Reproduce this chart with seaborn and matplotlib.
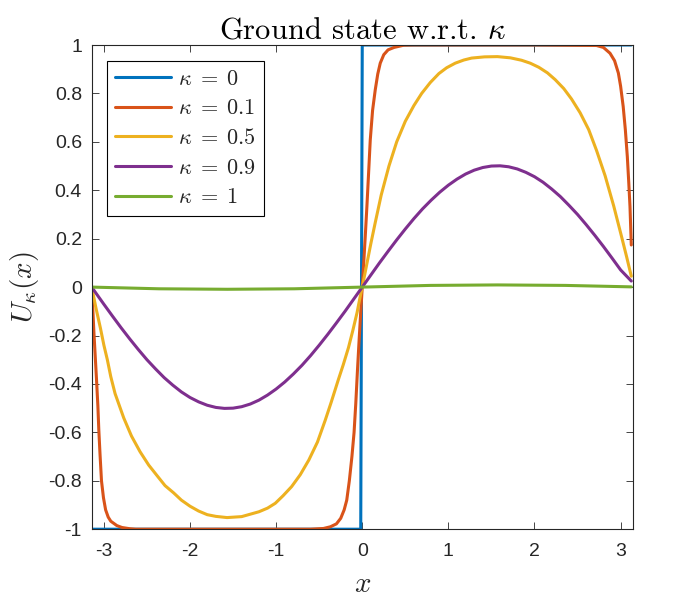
import numpy as np
import matplotlib
matplotlib.use('Agg')
import matplotlib.pyplot as plt
import seaborn as sns

sns.set_theme(style='ticks')
plt.rcParams['font.family'] = ['Liberation Sans', 'DejaVu Sans']
plt.rcParams['mathtext.fontset'] = 'cm'

kappas = ['0', '0.1', '0.5', '0.9', '1']
colors = ['#0072BD', '#D95319', '#EDB120', '#7E2F8E', '#77AC30']

# kappa = 0 : step
x_k0 = [-3.1416, -0.0175, 0.0, 3.124]
u_k0 = [-1.0, -1.0, 1.0, 1.0]

# kappa = 0.1
x_k01 = [-3.1416, -3.13, -3.117, -3.10, -3.086, -3.07, -3.059, -3.045, -3.028,
         -3.005, -2.98, -2.95, -2.92, -2.85, -2.79, -2.70, -2.63, -2.0, -1.0,
         -0.60, -0.45, -0.37, -0.30, -0.25, -0.21, -0.18, -0.15, -0.12, -0.095,
         -0.075, -0.055, -0.035, -0.017, 0.0, 0.017, 0.035, 0.054, 0.075, 0.093,
         0.12, 0.151, 0.18, 0.209, 0.25, 0.30, 0.37, 0.48, 0.60, 1.0, 2.0,
         2.72, 2.80, 2.877, 2.93, 2.974, 3.0, 3.03, 3.055, 3.078, 3.095, 3.109,
         3.124]
u_k01 = [0.0, -0.08, -0.18, -0.29, -0.38, -0.49, -0.59, -0.69, -0.80,
         -0.87, -0.92, -0.95, -0.967, -0.985, -0.993, -0.998, -1.0, -1.0, -1.0,
         -1.0, -0.997, -0.99, -0.978, -0.955, -0.92, -0.88, -0.80, -0.70, -0.60,
         -0.48, -0.34, -0.21, -0.10, 0.0, 0.10, 0.21, 0.333, 0.48, 0.608,
         0.73, 0.815, 0.88, 0.925, 0.96, 0.98, 0.99, 0.999, 1.0, 1.0, 1.0,
         0.998, 0.99, 0.966, 0.935, 0.884, 0.83, 0.746, 0.65, 0.539, 0.43, 0.333,
         0.174]

# kappa = 0.5
x_k05 = [-3.1416, -3.09, -3.04, -3.0, -2.96, -2.92, -2.87, -2.82, -2.77, -2.68,
         -2.58, -2.48, -2.38, -2.29, -2.19, -2.1, -2.0, -1.9, -1.8, -1.7,
         -1.57, -1.4, -1.2, -1.1, -1.01, -0.92, -0.82, -0.72, -0.62, -0.52,
         -0.43, -0.36, -0.28, -0.22, -0.16, -0.11, -0.06, -0.03, 0.0,
         0.05, 0.10, 0.15, 0.22, 0.31, 0.40, 0.50, 0.60, 0.69, 0.79, 0.89,
         0.98, 1.08, 1.18, 1.27, 1.42, 1.57, 1.72, 1.85, 1.95, 2.05, 2.15,
         2.24, 2.34, 2.43, 2.53, 2.63, 2.72, 2.82, 2.92, 3.01, 3.07, 3.124]
u_k05 = [0.0, -0.09, -0.17, -0.24, -0.30, -0.37, -0.44, -0.49, -0.54, -0.615,
         -0.68, -0.735, -0.78, -0.82, -0.85, -0.88, -0.905, -0.925, -0.94, -0.947,
         -0.952, -0.948, -0.928, -0.913, -0.893, -0.862, -0.824, -0.775, -0.714, -0.64,
         -0.55, -0.475, -0.385, -0.32, -0.25, -0.18, -0.105, -0.05, 0.0,
         0.09, 0.18, 0.265, 0.38, 0.50, 0.60, 0.685, 0.75, 0.80, 0.845, 0.882,
         0.906, 0.925, 0.938, 0.946, 0.951, 0.952, 0.947, 0.937, 0.925, 0.908, 0.885,
         0.857, 0.82, 0.777, 0.72, 0.65, 0.565, 0.46, 0.335, 0.21, 0.125, 0.045]

# kappa = 0.9
x_k09 = [-3.1416, -3.1, -3.0, -2.9, -2.8, -2.7, -2.6, -2.5, -2.4, -2.3, -2.2,
         -2.1, -2.0, -1.9, -1.8, -1.7, -1.6, -1.5, -1.4, -1.3, -1.2, -1.1,
         -1.0, -0.9, -0.8, -0.7, -0.6, -0.5, -0.4, -0.3, -0.2, -0.1, 0.0,
         0.1, 0.2, 0.3, 0.4, 0.5, 0.6, 0.7, 0.8, 0.9, 1.0, 1.1, 1.2, 1.3,
         1.4, 1.5, 1.6, 1.7, 1.8, 1.9, 2.0, 2.1, 2.2, 2.3, 2.4, 2.5, 2.6,
         2.7, 2.8, 2.9, 3.0, 3.124]
u_k09 = [0.0, -0.021, -0.071, -0.12, -0.168, -0.214, -0.258, -0.30, -0.338,
         -0.374, -0.405, -0.433, -0.456, -0.474, -0.488, -0.497, -0.501, -0.50,
         -0.494, -0.483, -0.467, -0.446, -0.421, -0.392, -0.359, -0.323, -0.283,
         -0.24, -0.195, -0.148, -0.10, -0.05, 0.0,
         0.05, 0.10, 0.148, 0.195, 0.24, 0.283, 0.323, 0.359, 0.392, 0.421,
         0.446, 0.467, 0.483, 0.494, 0.50, 0.501, 0.497, 0.488, 0.474, 0.456,
         0.433, 0.405, 0.374, 0.338, 0.30, 0.258, 0.214, 0.168, 0.12, 0.071,
         0.025]

# kappa = 1
x_k1 = [-3.1416, -2.36, -1.57, -0.79, 0.0, 0.79, 1.57, 2.36, 3.124]
u_k1 = [0.0, -0.007, -0.009, -0.007, 0.0, 0.007, 0.009, 0.007, 0.001]

xs = [x_k0, x_k01, x_k05, x_k09, x_k1]
us = [u_k0, u_k01, u_k05, u_k09, u_k1]

fig = plt.figure(figsize=(7, 6), dpi=100)
ax = fig.add_axes([0.131, 0.118, 0.773, 0.807])

for k, x, u, c in zip(kappas, xs, us, colors):
    sns.lineplot(x=x, y=u, ax=ax, color=c, lw=2.2, sort=False,
                 label=r'$\kappa\;=\;%s$' % k)

ax.set_xlim(-np.pi, np.pi)
ax.set_ylim(-1, 1)
ax.set_xticks(range(-3, 4))
ax.set_yticks(np.round(np.arange(-1, 1.01, 0.2), 1))
ax.set_yticklabels(['-1', '-0.8', '-0.6', '-0.4', '-0.2', '0',
                    '0.2', '0.4', '0.6', '0.8', '1'])
ax.set_xticklabels(['-3', '-2', '-1', '0', '1', '2', '3'])
ax.tick_params(direction='in', length=5, width=0.6, top=True, right=True,
               labelsize=14, colors='#262626')
ax.tick_params(axis='x', pad=10)
ax.tick_params(axis='y', pad=7)
for s in ax.spines.values():
    s.set_linewidth(0.8)
    s.set_color('#262626')

ax.set_title(r'Ground state w.r.t. $\kappa$', fontsize=22, family='cmr10',
             color='black', pad=5)
ax.set_xlabel(r'$x$', fontsize=21, labelpad=7)
ax.set_ylabel(r'$U_\kappa(x)$', fontsize=21, labelpad=5)

leg = ax.legend(loc='upper left', bbox_to_anchor=(0.028, 0.967),
                borderaxespad=0, fontsize=16, frameon=True, fancybox=False,
                handlelength=2.55, handletextpad=0.32, labelspacing=0.39,
                borderpad=0.35)
leg.get_frame().set_edgecolor('black')
leg.get_frame().set_linewidth(0.8)
leg.get_frame().set_alpha(1)

fig.savefig('out.png', dpi=100)
